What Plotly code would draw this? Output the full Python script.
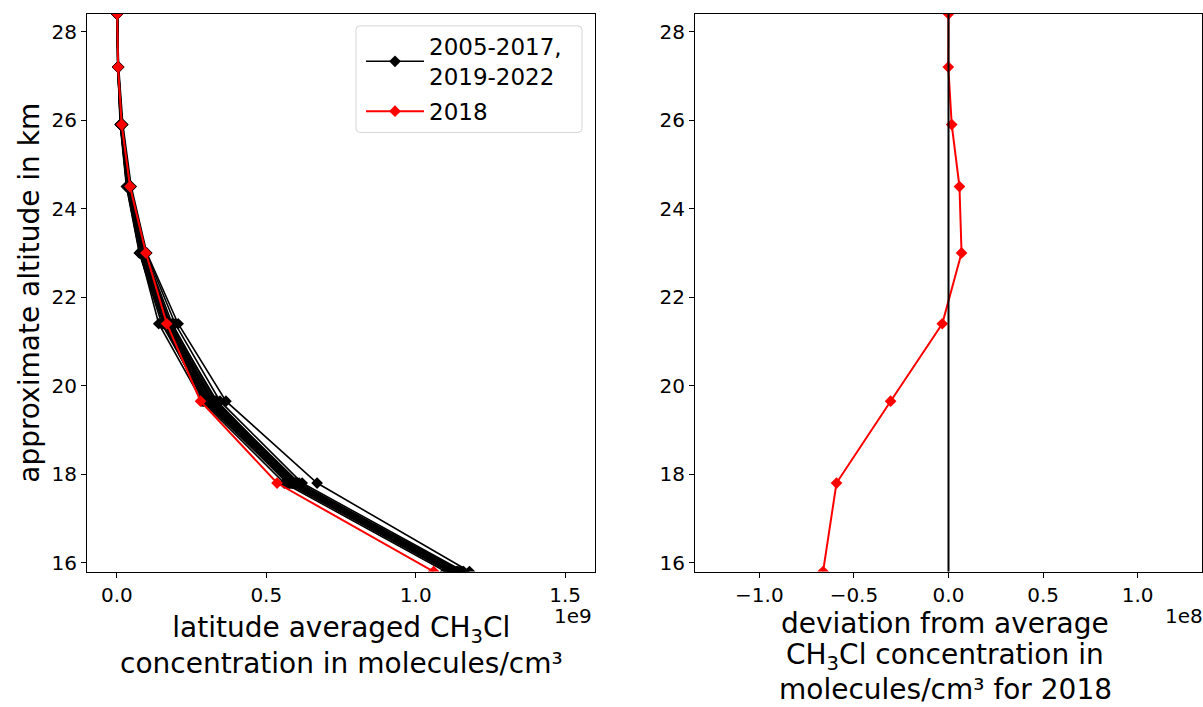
import plotly.graph_objects as go

# Approximate altitude levels (km)
altitude = [28.4, 27.2, 25.9, 24.5, 23.0, 21.4, 19.65, 17.8, 15.8]

# Latitude averaged CH3Cl concentration profiles, units of 1e9 molecules/cm³
profiles_other_years = [
    [0.001, 0.003, 0.012, 0.035, 0.080, 0.160, 0.300, 0.580, 1.120],
    [0.001, 0.004, 0.014, 0.038, 0.085, 0.165, 0.310, 0.590, 1.130],
    [0.000, 0.003, 0.011, 0.032, 0.075, 0.150, 0.295, 0.570, 1.110],
    [0.001, 0.004, 0.015, 0.040, 0.090, 0.175, 0.320, 0.600, 1.140],
    [0.001, 0.005, 0.016, 0.042, 0.095, 0.185, 0.330, 0.610, 1.150],
    [0.001, 0.003, 0.013, 0.036, 0.082, 0.170, 0.315, 0.595, 1.125],
    [0.001, 0.004, 0.012, 0.034, 0.078, 0.140, 0.285, 0.560, 1.100],
    [0.002, 0.005, 0.018, 0.045, 0.098, 0.195, 0.345, 0.620, 1.160],
    [0.001, 0.004, 0.014, 0.037, 0.086, 0.168, 0.305, 0.585, 1.135],
    [0.001, 0.003, 0.012, 0.033, 0.076, 0.155, 0.290, 0.575, 1.115],
    [0.001, 0.006, 0.020, 0.048, 0.100, 0.205, 0.365, 0.670, 1.180],
    [0.001, 0.004, 0.015, 0.039, 0.088, 0.178, 0.325, 0.605, 1.145],
    [0.001, 0.004, 0.014, 0.036, 0.084, 0.162, 0.300, 0.590, 1.125],
    [0.002, 0.005, 0.017, 0.043, 0.092, 0.180, 0.335, 0.600, 1.155],
    [0.001, 0.003, 0.013, 0.035, 0.080, 0.158, 0.298, 0.578, 1.118],
    [0.001, 0.004, 0.016, 0.041, 0.090, 0.172, 0.318, 0.598, 1.138],
    [0.001, 0.004, 0.014, 0.038, 0.087, 0.166, 0.308, 0.588, 1.128],
]
profile_2018 = [0.001, 0.004, 0.016, 0.044, 0.097, 0.167, 0.280, 0.536, 1.060]

# Deviation of 2018 from the multi-year average, units of 1e8 molecules/cm³
deviation_2018 = [0.000, -0.001, 0.017, 0.058, 0.069, -0.033, -0.306, -0.592, -0.663]

left_xticks = [0.0, 0.5, 1.0, 1.5]
right_xticks = [-1.0, -0.5, 0.0, 0.5, 1.0]
yticks = [16, 18, 20, 22, 24, 26, 28]

W, H = 1203, 707
FONT = "DejaVu Sans"


def fx(px):
    return px / W


def fy(py):
    return 1 - py / H


fig = go.Figure()

for i, prof in enumerate(profiles_other_years):
    fig.add_trace(go.Scatter(
        x=[v * 1e9 for v in prof], y=altitude,
        mode="lines+markers",
        line=dict(color="black", width=1.6),
        marker=dict(symbol="diamond", size=9, color="black"),
        name="2005-2017,<br>2019-2022",
        legendgroup="other", showlegend=(i == 0),
        xaxis="x", yaxis="y",
    ))

fig.add_trace(go.Scatter(
    x=[v * 1e9 for v in profile_2018], y=altitude,
    mode="lines+markers",
    line=dict(color="red", width=2),
    marker=dict(symbol="diamond", size=9, color="red"),
    name="2018", xaxis="x", yaxis="y",
))

fig.add_trace(go.Scatter(
    x=[v * 1e8 for v in deviation_2018], y=altitude,
    mode="lines+markers",
    line=dict(color="red", width=2),
    marker=dict(symbol="diamond", size=9, color="red"),
    name="2018 deviation", showlegend=False,
    xaxis="x2", yaxis="y2",
))

axis_common = dict(
    showline=True, linecolor="black", linewidth=1, mirror=True,
    ticks="outside", ticklen=5, tickwidth=1, tickcolor="black",
    showgrid=False, zeroline=False,
    tickfont=dict(family=FONT, size=20, color="black"),
)

fig.update_layout(
    width=W, height=H,
    margin=dict(l=0, r=0, t=0, b=0),
    paper_bgcolor="white", plot_bgcolor="white",
    font=dict(family=FONT, color="black"),
    xaxis=dict(
        domain=[fx(87), fx(595)], range=[-0.1e9, 1.6e9],
        tickvals=[v * 1e9 for v in left_xticks],
        ticktext=[f"{v:.1f}" for v in left_xticks],
        anchor="y", **axis_common,
    ),
    yaxis=dict(
        domain=[fy(574), fy(14)], range=[15.8, 28.4],
        tickvals=yticks, ticktext=[str(v) for v in yticks],
        anchor="x", **axis_common,
    ),
    xaxis2=dict(
        domain=[fx(695), fx(1202)], range=[-1.34e8, 1.34e8],
        tickvals=[v * 1e8 for v in right_xticks],
        ticktext=[f"{v:.1f}".replace("-", "\u2212") for v in right_xticks],
        anchor="y2", **axis_common,
    ),
    yaxis2=dict(
        domain=[fy(574), fy(14)], range=[15.8, 28.4],
        tickvals=yticks, ticktext=[str(v) for v in yticks],
        anchor="x2", **axis_common,
    ),
    legend=dict(
        x=fx(361), y=fy(25), xanchor="left", yanchor="top",
        bgcolor="rgba(0,0,0,0)", borderwidth=0,
        font=dict(family=FONT, size=23, color="black"),
        itemwidth=58, tracegroupgap=2,
    ),
    showlegend=True,
)

# Legend frame with slightly rounded corners
x0, x1 = fx(356), fx(582)
y0, y1 = fy(133), fy(26)
rx, ry = 4 / W, 4 / H
frame_path = (
    f"M {x0 + rx},{y1} L {x1 - rx},{y1} Q {x1},{y1} {x1},{y1 - ry} "
    f"L {x1},{y0 + ry} Q {x1},{y0} {x1 - rx},{y0} "
    f"L {x0 + rx},{y0} Q {x0},{y0} {x0},{y0 + ry} "
    f"L {x0},{y1 - ry} Q {x0},{y1} {x0 + rx},{y1} Z"
)
fig.add_shape(type="path", xref="paper", yref="paper", path=frame_path,
              fillcolor="white", line=dict(color="#d5d5d5", width=1),
              layer="above")

# Zero reference line in the deviation panel
fig.add_shape(type="line", xref="x2", yref="y2 domain",
              x0=0, x1=0, y0=0, y1=1,
              line=dict(color="black", width=2))

annotations = [
    dict(text="approximate altitude in km", x=fx(30), y=fy(294),
         textangle=-90, font=dict(size=28)),
    dict(text="latitude averaged CH<sub>3</sub>Cl<br>concentration in molecules/cm³",
         x=fx(341), y=fy(648), font=dict(size=28)),
    dict(text="1e9", x=fx(573), y=fy(619), font=dict(size=20)),
    dict(text="1e8", x=fx(1184), y=fy(619), font=dict(size=20)),
    # Title of the deviation panel, one line per row
    dict(text="deviation from average", x=fx(945), y=fy(626), font=dict(size=28)),
    dict(text="CH<sub>3</sub>Cl concentration in", x=fx(945), y=fy(659), font=dict(size=28)),
    dict(text="molecules/cm³ for 2018", x=fx(945), y=fy(692), font=dict(size=28)),
]
for a in annotations:
    fig.add_annotation(xref="paper", yref="paper", showarrow=False,
                       xanchor="center", yanchor="middle",
                       font_family=FONT, font_color="black", **a)

fig.write_html("out.html")
